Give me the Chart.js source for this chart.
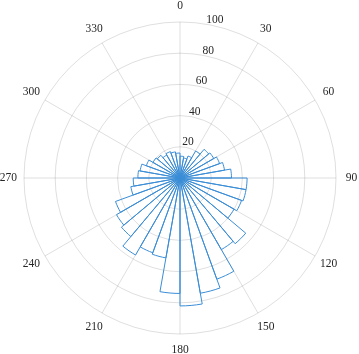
<!DOCTYPE html>
<html>
<head>
<meta charset="utf-8">
<script src="https://cdn.jsdelivr.net/npm/chart.js@4.4.1/dist/chart.umd.min.js"></script>
<style>
  html, body { margin: 0; padding: 0; background: #fff; }
  #wrap { width: 359px; height: 354px; }
</style>
</head>
<body>
<div id="wrap"><canvas id="chartRose"></canvas></div>
<script>
// 10 degree bins, clockwise from north
const binStarts = [0, 10, 20, 30, 40, 50, 60, 70, 80, 90, 100, 110,
                   120, 130, 140, 150, 160, 170, 180, 190, 200, 210, 220, 230,
                   240, 250, 260, 270, 280, 290, 300, 310, 320, 330, 340, 350];
const counts = [14, 13, 15, 20, 24, 25, 27, 29, 33, 43, 43, 42,
                40, 55, 53, 69, 75, 82, 74, 52, 51, 57, 49, 47,
                44, 32, 30, 27, 26, 23, 20, 19, 17, 18, 17, 16];
const angleTicks = [0, 30, 60, 90, 120, 150, 180, 210, 240, 270, 300, 330];
const radialTicks = [20, 40, 60, 80, 100];

const gridColor = 'rgba(38,38,38,0.15)';
const fontCss = '11.5px "Liberation Serif", serif';

// matlab style labels: theta labels centred at 1.1*rmax,
// r labels a bit clockwise of the 0 line
const polarLabels = {
  id: 'polarLabels',
  afterDatasetsDraw(chart) {
    const r = chart.scales.r;
    const ctx = chart.ctx;
    const rMax = r.getDistanceFromCenterForValue(r.max);
    ctx.save();
    ctx.font = fontCss;
    ctx.fillStyle = '#262626';
    ctx.textAlign = 'center';
    ctx.textBaseline = 'middle';
    binStarts.forEach((b, i) => {
      if (!angleTicks.includes(b)) return;
      const p = r.getPointPosition(i, rMax * 1.1);
      ctx.fillText(String(b), p.x, p.y);
    });
    const a = 12.5 * Math.PI / 180;
    radialTicks.forEach(v => {
      const d = r.getDistanceFromCenterForValue(v) + 5.5;
      ctx.fillText(String(v), r.xCenter + Math.sin(a) * d, r.yCenter - Math.cos(a) * d);
    });
    ctx.restore();
  }
};

new Chart(document.getElementById('chartRose'), {
  type: 'polarArea',
  data: {
    labels: binStarts.map(String),
    datasets: [{
      data: counts,
      backgroundColor: 'rgba(0,0,0,0)',
      borderColor: '#3a8dd6',
      borderWidth: 1
    }]
  },
  options: {
    responsive: true,
    maintainAspectRatio: false,
    animation: false,
    layout: {padding: {left: 24, right: 23, top: 22, bottom: 20}},
    plugins: {
      legend: {display: false},
      tooltip: {enabled: false}
    },
    scales: {
      r: {
        min: 0,
        max: 100,
        startAngle: 0,
        ticks: {stepSize: 20, display: false},
        grid: {circular: true, color: gridColor, lineWidth: 1},
        angleLines: {
          display: true,
          color: gridColor,
          lineWidth: ctx => angleTicks.includes(binStarts[ctx.index]) ? 1 : 0
        },
        pointLabels: {display: false}
      }
    }
  },
  plugins: [polarLabels]
});
</script>
</body>
</html>
